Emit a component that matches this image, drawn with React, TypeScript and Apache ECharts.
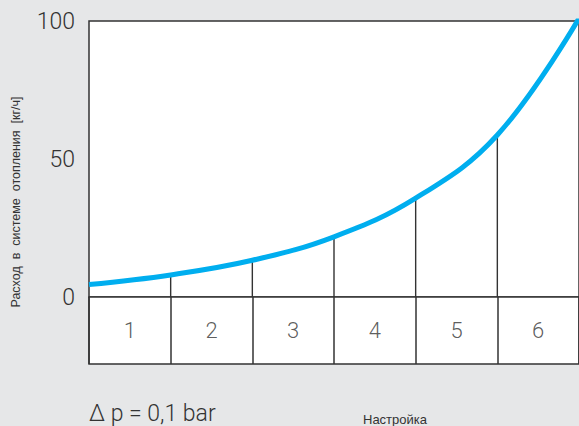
import React, { useEffect, useRef } from "react";
import * as echarts from "echarts";

const settings = [0, 1, 2, 3, 4, 5, 6];
const flow = [4.5, 8.0, 13.3, 21.8, 35.8, 58.7, 101];
const cellLabels = ["1", "2", "3", "4", "5", "6"];
const yTicks = [0, 50, 100];
const yTitle = "Расход  в  системе  отопления  [кг/ч]";
const xTitle = "Настройка";
const noteText = "Δ p = 0,1 bar";

const FONT = "'Liberation Sans Narrow', Roboto, 'Liberation Sans', sans-serif";

export default function App() {
  const ref = useRef<HTMLDivElement>(null);
  useEffect(() => {
    if (!ref.current) return;
    const chart = echarts.init(ref.current, undefined, { renderer: "svg" });
    const curve = settings.map((s, i) => [s, flow[i]]);
    const drops = settings.slice(1, 6).map((s) => [s, flow[s]]);
    const cells = cellLabels.map((l, i) => [i + 0.5, 0.5, l]);
    chart.setOption({
      animation: false,
      backgroundColor: "#e6e7e8",
      grid: [
        { left: 89, top: 21, width: 494, height: 276, show: true, backgroundColor: "#ffffff", borderColor: "#333", borderWidth: 1.5 },
        { left: 89, top: 297, width: 494, height: 67, show: true, backgroundColor: "#ffffff", borderColor: "#333", borderWidth: 1.5 },
      ],
      xAxis: [
        { type: "value", gridIndex: 0, min: 0, max: 6, interval: 1, axisLine: { show: false }, axisTick: { show: false }, axisLabel: { show: false }, splitLine: { show: false } },
        { type: "value", gridIndex: 1, min: 0, max: 6, interval: 1, axisLine: { show: false }, axisTick: { show: false }, axisLabel: { show: false }, splitLine: { show: true, lineStyle: { color: "#333", width: 1.5 } } },
      ],
      yAxis: [
        {
          type: "value", gridIndex: 0, min: yTicks[0], max: yTicks[yTicks.length - 1], interval: 50,
          axisLine: { show: false }, axisTick: { show: false }, splitLine: { show: false },
          axisLabel: { margin: 14, fontSize: 23, color: "#333", fontFamily: FONT, fontWeight: 300 },
        },
        { type: "value", gridIndex: 1, min: 0, max: 1, show: false },
      ],
      series: [
        {
          type: "custom", xAxisIndex: 0, yAxisIndex: 0, data: drops,
          renderItem: (params: any, api: any) => {
            const p0 = api.coord([api.value(0), 0]);
            const p1 = api.coord([api.value(0), api.value(1)]);
            return { type: "line", shape: { x1: p0[0], y1: p0[1], x2: p1[0], y2: p1[1] }, style: { stroke: "#333", lineWidth: 1.4 } };
          },
          z: 1,
        },
        {
          type: "line", xAxisIndex: 0, yAxisIndex: 0, data: curve, smooth: 0.4,
          showSymbol: false, symbol: "none", lineStyle: { color: "#00aeef", width: 5 }, clip: true, z: 3,
        },
        {
          type: "scatter", xAxisIndex: 1, yAxisIndex: 1, data: cells, symbolSize: 0,
          label: { show: true, position: "inside", formatter: (p: any) => p.value[2], fontSize: 22, color: "#333", fontFamily: FONT, fontWeight: 300 },
        },
      ],
      graphic: [
        { type: "text", x: 16, y: 202, rotation: Math.PI / 2, style: { text: yTitle, fontSize: 12.5, fill: "#333", fontFamily: "'Liberation Sans', Arial, sans-serif", textAlign: "center", textVerticalAlign: "middle" } },
        { type: "text", x: 89, y: 413, style: { text: noteText, fontSize: 23, fill: "#333", fontFamily: FONT, fontWeight: 300, textAlign: "left", textVerticalAlign: "middle" } },
        { type: "text", x: 395, y: 419, style: { text: xTitle, fontSize: 13, fill: "#333", fontFamily: "'Liberation Sans', Arial, sans-serif", textAlign: "center", textVerticalAlign: "middle" } },
      ],
    });
    return () => chart.dispose();
  }, []);
  return <div ref={ref} style={{ position: "absolute", left: 0, top: 0, width: 579, height: 426 }} />;
}
